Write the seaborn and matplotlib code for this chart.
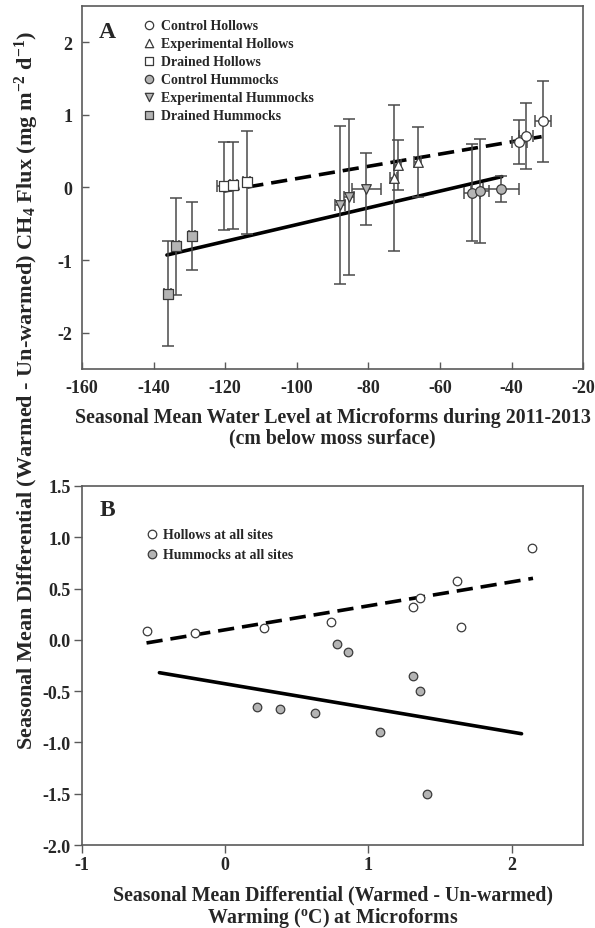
"""Recreate the two-panel CH4 flux differential figure (water level / warming)."""
import matplotlib
matplotlib.use('Agg')
import matplotlib.pyplot as plt
import seaborn as sns
import pandas as pd

# ---- Panel A: seasonal mean water level vs CH4 flux differential ----
a_groups = ['Control Hollows', 'Experimental Hollows', 'Drained Hollows',
            'Control Hummocks', 'Experimental Hummocks', 'Drained Hummocks']
a_wl = [[-37.8, -35.9, -31.2], [-72.9, -71.8, -66.2], [-120.3, -117.7, -114.0],
        [-51.1, -48.7, -42.9], [-87.9, -85.5, -80.6], [-136.1, -133.8, -129.3]]
a_wl_err = [[2.0, 2.0, 2.2], [1.0, 1.0, 1.0], [2.0, 1.0, 1.0],
            [2.2, 2.5, 5.0], [1.4, 1.4, 4.1], [1.0, 0.8, 0.8]]
a_flux = [[0.63, 0.71, 0.91], [0.13, 0.31, 0.35], [0.02, 0.03, 0.07],
          [-0.07, -0.05, -0.02], [-0.24, -0.13, -0.02], [-1.46, -0.81, -0.67]]
a_flux_err = [[0.30, 0.46, 0.56], [1.01, 0.34, 0.48], [0.60, 0.60, 0.71],
              [0.67, 0.72, 0.18], [1.09, 1.07, 0.50], [0.72, 0.67, 0.47]]

# fitted lines (hollows dashed, hummocks solid)
a_fit_hol_x = [-120.5, -31.6]
a_fit_hol_y = [-0.05, 0.70]
a_fit_hum_x = [-136.3, -42.7]
a_fit_hum_y = [-0.93, 0.15]

# ---- Panel B: warming differential vs CH4 flux differential ----
b_hol_warm = [-0.55, -0.21, 0.27, 0.74, 1.31, 1.36, 1.62, 1.65, 2.14]
b_hol_flux = [0.09, 0.07, 0.12, 0.17, 0.32, 0.41, 0.57, 0.13, 0.90]
b_hum_warm = [0.22, 0.38, 0.63, 0.78, 0.86, 1.08, 1.31, 1.36, 1.41]
b_hum_flux = [-0.65, -0.67, -0.71, -0.04, -0.12, -0.90, -0.35, -0.50, -1.50]

b_fit_hol_x = [-0.55, 2.15]
b_fit_hol_y = [-0.03, 0.60]
b_fit_hum_x = [-0.46, 2.07]
b_fit_hum_y = [-0.32, -0.915]

sns.set_theme(style='white')
plt.rcParams['font.family'] = ['Liberation Serif', 'DejaVu Serif']
plt.rcParams['font.weight'] = 'bold'
plt.rcParams['axes.unicode_minus'] = False
plt.rcParams['mathtext.fontset'] = 'custom'
plt.rcParams['mathtext.rm'] = 'Liberation Serif:bold'
plt.rcParams['mathtext.bf'] = 'Liberation Serif:bold'
plt.rcParams['mathtext.it'] = 'Liberation Serif:bold'
plt.rcParams['mathtext.default'] = 'bf'

SPINE = '#5a5a5a'
EDGE = '#3a3a3a'
GREY = '#b4b4b4'
TICK_FS = 13
LABEL_FS = 14.3
LEG_FS = 10

fig = plt.figure(figsize=(5.95, 9.29), dpi=100)
ax_a = fig.add_axes([0.138, 0.6017, 0.842, 0.3908])
ax_b = fig.add_axes([0.138, 0.0893, 0.842, 0.3865])

# ---------------- Panel A ----------------
markers = ['o', '^', 's', 'o', 'v', 's']
fills = ['white', 'white', 'white', GREY, GREY, GREY]

sns.lineplot(x=a_fit_hol_x, y=a_fit_hol_y, ax=ax_a, color='black', lw=2.6,
             dashes=(4.5, 2.2), zorder=2)
sns.lineplot(x=a_fit_hum_x, y=a_fit_hum_y, ax=ax_a, color='black', lw=2.6, zorder=2)

for name, xs, xe, ys, ye, mk, fc in zip(a_groups, a_wl, a_wl_err, a_flux, a_flux_err,
                                        markers, fills):
    ax_a.errorbar(xs, ys, xerr=xe, yerr=ye, fmt='none', ecolor='#4a4a4a',
                  elinewidth=1.1, capsize=4.5, capthick=1.1, zorder=3)
    df = pd.DataFrame({'x': xs, 'y': ys})
    sns.scatterplot(data=df, x='x', y='y', ax=ax_a, marker=mk, color=fc,
                    edgecolor=EDGE, linewidth=0.9, s=48, zorder=4, label=name)

ax_a.set_xlim(-160, -20)
ax_a.set_ylim(-2.5, 2.5)
ax_a.set_xticks(range(-160, -19, 20))
ax_a.set_yticks([-2, -1, 0, 1, 2])
ax_a.tick_params(direction='in', length=5, width=1, color=SPINE,
                 labelsize=TICK_FS, pad=7, top=False, right=False,
                 bottom=True, left=True)
ax_a.set_xlabel('Seasonal Mean Water Level at Microforms during 2011-2013\n'
                '(cm below moss surface)', fontsize=LABEL_FS, fontweight='bold',
                labelpad=8, linespacing=1.05)
ax_a.set_ylabel('')
ax_a.text(0.05, 0.93, 'A', transform=ax_a.transAxes, fontsize=17,
          fontweight='bold', ha='center', va='center')
leg = ax_a.legend(loc='upper left', bbox_to_anchor=(0.095, 0.995), frameon=False,
                  fontsize=LEG_FS, handletextpad=0.25, labelspacing=0.36,
                  handlelength=1.2, borderaxespad=0.4)
for h in leg.legend_handles:
    h.set_sizes([36])

# ---------------- Panel B ----------------
sns.lineplot(x=b_fit_hol_x, y=b_fit_hol_y, ax=ax_b, color='black', lw=2.6,
             dashes=(4.5, 2.2), zorder=2)
sns.lineplot(x=b_fit_hum_x, y=b_fit_hum_y, ax=ax_b, color='black', lw=2.6, zorder=2)
sns.scatterplot(x=b_hol_warm, y=b_hol_flux, ax=ax_b, marker='o', color='white',
                edgecolor=EDGE, linewidth=0.9, s=38, zorder=4,
                label='Hollows at all sites')
sns.scatterplot(x=b_hum_warm, y=b_hum_flux, ax=ax_b, marker='o', color=GREY,
                edgecolor=EDGE, linewidth=0.9, s=38, zorder=4,
                label='Hummocks at all sites')

ax_b.set_xlim(-1, 2.5)
ax_b.set_ylim(-2.0, 1.5)
ax_b.set_xticks([-1, 0, 1, 2])
ax_b.set_yticks([-2.0, -1.5, -1.0, -0.5, 0.0, 0.5, 1.0, 1.5])
ax_b.set_yticklabels(['-2.0', '-1.5', '-1.0', '-0.5', '0.0', '0.5', '1.0', '1.5'])
ax_b.tick_params(direction='out', length=6, width=1, color=SPINE,
                 labelsize=TICK_FS, pad=2, top=False, right=False,
                 bottom=True, left=True)
ax_b.set_xlabel('Seasonal Mean Differential (Warmed - Un-warmed)\n'
                'Warming ($^{o}$C) at Microforms', fontsize=LABEL_FS,
                fontweight='bold', labelpad=8, linespacing=1.05)
ax_b.set_ylabel('')
ax_b.text(0.05, 0.935, 'B', transform=ax_b.transAxes, fontsize=17,
          fontweight='bold', ha='center', va='center')
ax_b.legend(loc='upper left', bbox_to_anchor=(0.1, 0.915), frameon=False,
            fontsize=LEG_FS, handletextpad=0.25, labelspacing=0.5,
            handlelength=1.2, borderaxespad=0.4)

for ax in (ax_a, ax_b):
    for sp in ax.spines.values():
        sp.set_color(SPINE)
        sp.set_linewidth(1.2)
    for lab in ax.get_xticklabels() + ax.get_yticklabels():
        lab.set_fontweight('bold')

fig.text(0.045, 1 - 390 / 929,
         'Seasonal Mean Differential (Warmed - Un-warmed) CH$_4$ Flux '
         '(mg m$^{-2}$ d$^{-1}$)',
         rotation=90, ha='center', va='center', fontsize=16, fontweight='bold')

fig.savefig('out.png', dpi=100, facecolor='white')
